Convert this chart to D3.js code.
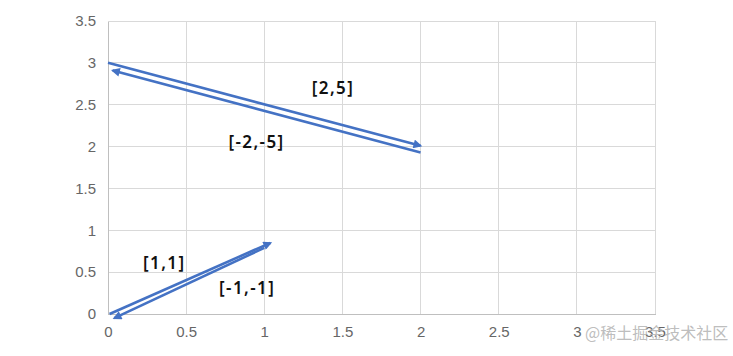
<!DOCTYPE html>
<html>
<head>
<meta charset="utf-8">
<script src="https://cdn.jsdelivr.net/npm/d3@7"></script>
<style>
body{margin:0;background:#fff;}
svg{display:block;}
</style>
</head>
<body>
<div id="chart"></div>
<script>
// Data
const xTicks = [0, 0.5, 1, 1.5, 2, 2.5, 3, 3.5];
const yTicks = [0, 0.5, 1, 1.5, 2, 2.5, 3, 3.5];
const vecA = [[0, 3], [2, 2.01]];          // [2,5]
const vecB = [[2, 1.93], [0.03, 2.91]];    // [-2,-5]
const vecC = [[0.01, 0], [1.04, 0.85]];    // [1,1]
const vecD = [[1.0, 0.79], [0.04, -0.05]]; // [-1,-1]
const labelText = ["[2,5]", "[-2,-5]", "[1,1]", "[-1,-1]"];
const labelPos = [[1.44, 2.71], [0.95, 2.06], [0.36, 0.62], [0.89, 0.32]];

const W = 733, H = 356;
const margin = {left: 108, right: 78, top: 21, bottom: 42};
const svg = d3.select("#chart").append("svg").attr("width", W).attr("height", H);

const x = d3.scaleLinear().domain([0, 3.5]).range([margin.left, W - margin.right]);
const y = d3.scaleLinear().domain([0, 3.5]).range([H - margin.bottom, margin.top]);

// grid
svg.append("g").selectAll("line.v").data(xTicks.slice(1)).join("line")
  .attr("x1", d => x(d)).attr("x2", d => x(d))
  .attr("y1", y(0)).attr("y2", y(3.5))
  .attr("stroke", "#d9d9d9").attr("stroke-width", 1).attr("shape-rendering", "crispEdges");
svg.append("g").selectAll("line.h").data(yTicks.slice(1)).join("line")
  .attr("x1", x(0)).attr("x2", x(3.5))
  .attr("y1", d => y(d)).attr("y2", d => y(d))
  .attr("stroke", "#d9d9d9").attr("stroke-width", 1).attr("shape-rendering", "crispEdges");

// axes
const xAxis = d3.axisBottom(x).tickValues(xTicks).tickSize(0).tickPadding(12).tickFormat(d3.format("~g"));
const yAxis = d3.axisLeft(y).tickValues(yTicks).tickSize(0).tickPadding(12).tickFormat(d3.format("~g"));
const gx = svg.append("g").attr("transform", `translate(0,${y(0)})`).call(xAxis);
const gy = svg.append("g").attr("transform", `translate(${x(0)},0)`).call(yAxis);
[gx, gy].forEach(g => {
  g.attr("font-size", 15).attr("font-family", "'Liberation Sans', Arial, sans-serif");
  g.select(".domain").attr("stroke", "#bfbfbf").attr("stroke-width", 1).attr("shape-rendering", "crispEdges");
  g.selectAll("text").attr("fill", "#666");
});

// arrow marker
const defs = svg.append("defs");
defs.append("marker").attr("id", "arr").attr("viewBox", "0 0 10 10")
  .attr("refX", 8).attr("refY", 5).attr("markerWidth", 3.8).attr("markerHeight", 3.4)
  .attr("orient", "auto").attr("markerUnits", "strokeWidth")
  .append("path").attr("d", "M0,0 L10,5 L0,10 Z").attr("fill", "#4472C4");

const line = d3.line().x(d => x(d[0])).y(d => y(d[1]));
[vecA, vecB, vecC, vecD].forEach(v => {
  svg.append("path").datum(v).attr("d", line)
    .attr("fill", "none").attr("stroke", "#4472C4").attr("stroke-width", 2.6)
    .attr("marker-end", "url(#arr)");
});

// labels
svg.append("g").selectAll("text").data(labelText).join("text")
  .attr("x", (d, i) => x(labelPos[i][0])).attr("y", (d, i) => y(labelPos[i][1]))
  .attr("text-anchor", "middle").attr("dominant-baseline", "central")
  .attr("font-family", "'Noto Sans', sans-serif").attr("font-weight", 600)
  .attr("font-size", 17).attr("letter-spacing", 1.4).attr("fill", "#111")
  .text(d => d);

// watermark
svg.append("text").attr("x", 585).attr("y", 339)
  .attr("font-family", "'Noto Sans CJK SC', sans-serif").attr("font-size", 16)
  .attr("fill", "#b5b5b5").attr("fill-opacity", 0.9)
  .text("@稀土掘金技术社区");
</script>
</body>
</html>
